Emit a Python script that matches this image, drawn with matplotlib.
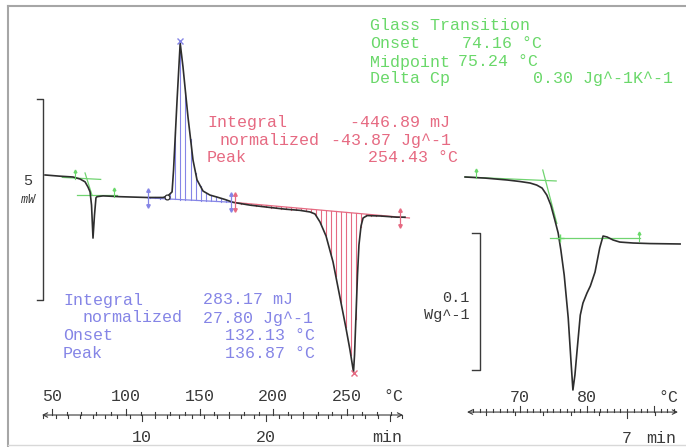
import numpy as np
import matplotlib
matplotlib.use("Agg")
import matplotlib.pyplot as plt

# DSC curve, main panel (temperature in degC, heat flow in mW, arbitrary offset)
temp = [45.3, 55.4, 64.2, 69.0, 72.4, 74.4, 75.8, 76.8, 77.8, 78.8, 79.8, 80.5,
        84.6, 96.1, 114.4, 125.3, 128.6, 131.4, 132.4, 134.8, 136.9, 138.8,
        142.2, 145.6, 148.3, 152.4, 157.1, 161.9, 167.3, 172.7, 184.2, 195.8,
        208.0, 218.1, 224.9, 228.3, 231.7, 235.8, 240.5, 245.3, 249.3, 252.0,
        254.4, 255.1, 256.1, 257.1, 258.1, 259.5, 260.9, 263.6, 272.4, 283.9, 289.3]
heat_flow = [3.11, 3.08, 3.06, 3.01, 2.94, 2.81, 2.69, 2.36, 1.54, 2.11, 2.54, 2.57,
             2.59, 2.57, 2.55, 2.55, 2.59, 2.69, 3.23, 4.98, 6.39, 5.80,
             4.55, 3.48, 2.99, 2.71, 2.61, 2.56, 2.50, 2.43, 2.36, 2.31,
             2.26, 2.23, 2.19, 2.14, 1.94, 1.59, 0.95, 0.05, -0.70, -1.24,
             -1.79, -1.37, -0.37, 0.62, 1.37, 1.84, 2.04, 2.10, 2.09, 2.06, 2.06]

# integration baselines (start T, end T, start hf, end hf)
blue_base = [115.0, 172.7, 2.54, 2.43]
red_base = [172.7, 289.3, 2.43, 2.05]

# glass transition evaluation lines on main panel
gt_upper = [[57.0, 83.0], [3.05, 3.00]]
gt_lower = [[66.9, 94.1], [2.60, 2.60]]
gt_steep = [[72.4, 77.1], [3.16, 2.61]]

# inset (glass transition zoom), heat flow in W/g
ins_temp = [61.8, 64.8, 68.1, 70.0, 71.5, 72.5, 73.3, 74.0, 74.6, 75.2, 75.7,
            76.1, 76.6, 77.2, 77.6, 77.9, 78.2, 78.5, 79.0, 79.4, 80.0, 80.5,
            81.2, 81.9, 82.4, 83.0, 83.9, 84.9, 86.9, 89.4, 93.9]
ins_hf = [0.1409, 0.1401, 0.1387, 0.1376, 0.1365, 0.1350, 0.1328, 0.1277, 0.1204,
          0.1095, 0.1000, 0.0876, 0.0693, 0.0380, 0.0073, -0.0146, -0.0036, 0.0131,
          0.0401, 0.0489, 0.0562, 0.0613, 0.0715, 0.0891, 0.0978, 0.0971, 0.0949,
          0.0934, 0.0927, 0.0923, 0.0920]
ins_upper = [[61.8, 75.4], [0.1409, 0.1380]]
ins_steep = [[73.4, 75.5], [0.146, 0.107]]
ins_lower = [[74.5, 87.9], [0.0964, 0.0964]]

heating_rate = 8.4   # K/min
start_temp = 27.2    # degC at t = 0

green_lines = ["Glass Transition", "Onset", "Midpoint", "Delta Cp"]
green_values = ["", "74.16 °C", "75.24 °C", "0.30 Jg^-1K^-1"]
red_lines = ["Integral", "normalized", "Peak"]
red_values = ["-446.89 mJ", "-43.87 Jg^-1", "254.43 °C"]
blue_lines = ["Integral", "normalized", "Onset", "Peak"]
blue_values = ["283.17 mJ", "27.80 Jg^-1", "132.13 °C", "136.87 °C"]

W, H = 686, 447
CURVE = "#2e2e2e"
GREEN = "#6ad86a"
GREEN_LINE = "#70d470"
RED = "#e66a82"
BLUE = "#8585e6"
AXIS = "#3a3a3a"
MONO = "Liberation Mono"

fig = plt.figure(figsize=(W / 100, H / 100), dpi=100)


def px_text(x, y, s, color, size=12, ha="left"):
    fig.text(x / W, 1 - y / H, s, color=color, fontsize=size, family=MONO,
             ha=ha, va="center")


def updown(ax, x, y, d, color):
    ax.plot([x, x], [y - d, y + d], color=color, lw=0.9)
    ax.plot([x], [y + d], marker="^", ms=2.5, color=color, lw=0)
    ax.plot([x], [y - d], marker="v", ms=2.5, color=color, lw=0)


def up_tick(ax, x, y, d, color):
    ax.plot([x, x], [y - d, y + d], color=color, lw=0.8)
    ax.plot([x], [y + d], marker="^", ms=2, color=color, lw=0)


# ---------------- main panel ----------------
ax = fig.add_axes([0, 0, 460 / W, 1])
ax.set_xlim(14.75, 326.6)
ax.set_ylim(-3.657, 7.463)
ax.axis("off")

T = np.array(temp)
Q = np.array(heat_flow)

# hatching between curve and baselines
for base, col in [(blue_base, BLUE), (red_base, RED)]:
    t0, t1, q0, q1 = base
    ax.plot([t0, t1], [q0, q1], color=col, lw=0.9)
    for xh in np.arange(t0 + 1.7, t1, 3.4):
        qb = q0 + (q1 - q0) * (xh - t0) / (t1 - t0)
        ax.plot([xh, xh], [qb, np.interp(xh, T, Q)], color=col, lw=0.8)
ax.plot([red_base[1], red_base[1] + 3], [red_base[3], red_base[3] - 0.01],
        color=RED, lw=0.9)

for line in (gt_upper, gt_lower, gt_steep):
    ax.plot(line[0], line[1], color=GREEN_LINE, lw=0.9)

ax.plot(T, Q, color=CURVE, lw=1.2)

# markers
updown(ax, blue_base[0], blue_base[2], 0.2, BLUE)
updown(ax, blue_base[1] - 1.3, blue_base[3], 0.2, BLUE)
updown(ax, red_base[0] + 1.3, red_base[2], 0.2, RED)
updown(ax, red_base[1] - 3.3, red_base[3], 0.2, RED)
up_tick(ax, 65.4, 3.12, 0.1, GREEN)
up_tick(ax, 91.9, 2.66, 0.1, GREEN)
ax.plot([128.0], [2.57], marker="o", ms=3.5, mfc="white", mec=CURVE, mew=0.9)
ax.plot([136.9], [6.44], marker="x", ms=5, color=BLUE, mew=1.0)
ax.plot([254.4], [-1.82], marker="x", ms=5, color=RED, mew=1.0)

# scale bar 5 mW
ax.plot([39.8, 43.9, 43.9, 39.8], [5.0, 5.0, 0.0, 0.0], color=AXIS, lw=1.0)
ax.text(33.7, 2.95, "5", fontsize=11, family=MONO, color=AXIS, ha="center", va="center")
ax.text(33.7, 2.48, "mW", fontsize=8.5, family=MONO, color=AXIS, ha="center",
        va="center", style="italic")

# temperature / time axis
y_ax = -2.861
ax.annotate("", xy=(43.2, y_ax), xytext=(288.0, y_ax),
            arrowprops=dict(arrowstyle="<->", lw=0.8, color=AXIS,
                            shrinkA=0, shrinkB=0, mutation_scale=8))
for tk in np.arange(50, 290, 10):
    h = 0.16 if tk % 50 == 0 else 0.07
    ax.plot([tk, tk], [y_ax, y_ax + h], color=AXIS, lw=0.8)
for tk in [50, 100, 150, 200, 250]:
    ax.text(tk, -2.41, str(tk), fontsize=12, family=MONO, color=AXIS,
            ha="center", va="center")
ax.text(281.2, -2.41, "°C", fontsize=12, family=MONO, color=AXIS, ha="center", va="center")
for tm in np.arange(2, 32, 1):
    h = 0.16 if tm % 10 == 0 else 0.07
    xx = start_temp + heating_rate * tm
    ax.plot([xx, xx], [y_ax, y_ax - h], color=AXIS, lw=0.8)
for tm in [10, 20]:
    ax.text(start_temp + heating_rate * tm, -3.41, str(tm), fontsize=12,
            family=MONO, color=AXIS, ha="center", va="center")
ax.text(277.0, -3.41, "min", fontsize=12, family=MONO, color=AXIS, ha="center", va="center")

# ---------------- inset panel ----------------
ax2 = fig.add_axes([440 / W, 0, 246 / W, 1])
ax2.set_xlim(58.06, 94.78)
ax2.set_ylim(-0.0562, 0.2701)
ax2.axis("off")

for line in (ins_upper, ins_steep, ins_lower):
    ax2.plot(line[0], line[1], color=GREEN_LINE, lw=0.9)
ax2.plot(ins_temp, ins_hf, color=CURVE, lw=1.2)
up_tick(ax2, 63.4, 0.143, 0.003, GREEN)
up_tick(ax2, 87.8, 0.097, 0.003, GREEN)
ax2.plot([75.9], [0.0964], marker="+", ms=6, color=GREEN, mew=1.0)

# scale bar 0.1 W/g
ax2.plot([62.84, 64.03, 64.03, 62.84], [0.1, 0.1, 0.0, 0.0], color=AXIS, lw=1.0)
ax2.text(62.5, 0.0526, "0.1", fontsize=11, family=MONO, color=AXIS, ha="right", va="center")
ax2.text(62.5, 0.040, "Wg^-1", fontsize=11, family=MONO, color=AXIS, ha="right", va="center")

y2 = -0.0307
ax2.annotate("", xy=(62.09, y2), xytext=(93.58, y2),
             arrowprops=dict(arrowstyle="<->", lw=0.8, color=AXIS,
                             shrinkA=0, shrinkB=0, mutation_scale=8))
for tk in np.arange(63, 94, 1):
    h = 0.0045 if tk % 10 == 0 else 0.002
    ax2.plot([tk, tk], [y2, y2 + h], color=AXIS, lw=0.8)
for tk in [70, 80]:
    ax2.text(tk, -0.0204, str(tk), fontsize=12, family=MONO, color=AXIS,
             ha="center", va="center")
ax2.text(92.2, -0.0204, "°C", fontsize=12, family=MONO, color=AXIS, ha="center", va="center")
for tm in np.arange(4.5, 8.0, 0.5):
    h = 0.0045 if tm == 7 else 0.002
    xx = start_temp + heating_rate * tm
    ax2.plot([xx, xx], [y2, y2 - h], color=AXIS, lw=0.8)
ax2.text(start_temp + heating_rate * 7, -0.0497, "7", fontsize=12, family=MONO,
         color=AXIS, ha="center", va="center")
ax2.text(91.0, -0.0497, "min", fontsize=12, family=MONO, color=AXIS, ha="center", va="center")

# ---------------- result texts ----------------
gx = [370, 370, 370, 370]
gvx = [0, 462, 458, 533]
gy = [25, 44, 62, 79]
for lab, val, x, vx, y in zip(green_lines, green_values, gx, gvx, gy):
    px_text(x, y, lab, GREEN)
    if val:
        px_text(vx, y, val, GREEN)

rx = [207, 220, 207]
rvx = [350, 331, 368]
ry = [123, 140, 157]
for lab, val, x, vx, y in zip(red_lines, red_values, rx, rvx, ry):
    px_text(x, y, lab, RED)
    px_text(vx, y, val, RED)

bx = [63, 83, 63, 63]
bvx = [203, 203, 225, 225]
by = [300, 318, 335, 353]
for lab, val, x, vx, y in zip(blue_lines, blue_values, bx, bvx, by):
    px_text(x, y, lab, BLUE)
    px_text(vx, y, val, BLUE)

# window frame
frame = "#a6a6a6"
fig.add_artist(plt.Line2D([8 / W, 8 / W], [0, 1 - 6 / H], color=frame, lw=1.5))
fig.add_artist(plt.Line2D([8 / W, 1], [1 - 6 / H, 1 - 6 / H], color=frame, lw=1.5))
fig.add_artist(plt.Line2D([8 / W, 1], [1 - 445 / H, 1 - 445 / H], color="#d8d8d8", lw=1.0))

fig.savefig("out.png", dpi=100)
